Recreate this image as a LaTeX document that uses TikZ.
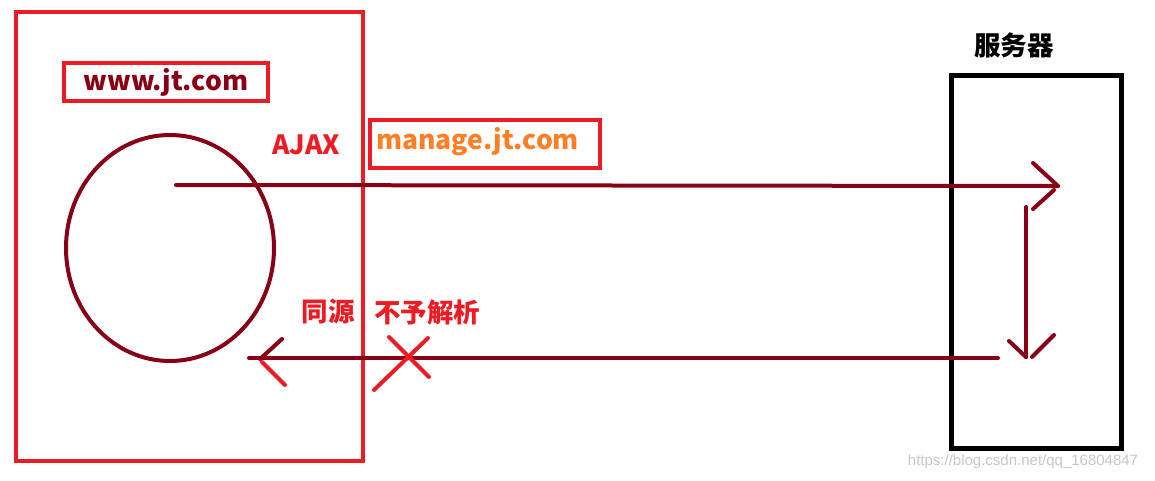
\documentclass[tikz,border=0pt]{standalone}
\usepackage{fontspec}
\setmainfont{Noto Sans CJK SC}
\setsansfont{Liberation Sans}
\usetikzlibrary{shapes.geometric}
\definecolor{maroon}{RGB}{136,0,21}
\definecolor{paintred}{RGB}{237,28,36}
\definecolor{paintorange}{RGB}{255,127,39}
\tikzset{
  boxnode/.style = {rectangle, inner sep=0pt, minimum width=#1},
  domain_box/.style = {boxnode=347pt, draw=paintred, line width=4pt,
    minimum height=449pt},% navigateur
  server_box/.style = {boxnode=170pt, draw=black, line width=5pt,
    minimum height=373pt},% serveur
  url_box/.style = {rectangle, inner sep=0pt, draw=paintred, line width=4pt},
  label_txt/.style = {inner sep=0pt, font=\fontsize{26.5}{30}\selectfont\bfseries},
  client_node/.style = {ellipse, draw=maroon, line width=4pt, inner sep=0pt,
    minimum width=208pt, minimum height=226pt},
  flow/.style = {maroon, line width=4pt, line cap=round},
  deny/.style = {paintred, line width=4pt, line cap=round},
}

\begin{document}
\begin{tikzpicture}[x=1pt,y=-1pt]
  \useasboundingbox (0,0) rectangle (1155,480);

  \node[domain_box] (browser) at (189.5,236.5) {};
  \node[server_box] (server) at (1036,261.5) {};
  \node[client_node] (client) at (170,248) {};

  \node[url_box, minimum width=204pt, minimum height=38pt, label_txt, text=maroon]
    (www) at (166,82) {www.jt.com};
  \node[url_box, minimum width=230pt, minimum height=48pt] (managebox) at (485,144) {};
  \node[label_txt, text=paintorange, anchor=west] (manage) at (376,142) {manage.jt.com};

  \node[label_txt, text=paintred] (ajax) at (306,145) {AJAX};
  \node[label_txt, text=paintred] (same) at (328,312) {同源};
  \node[label_txt, text=paintred] (refuse) at (427,312) {不予解析};
  \node[label_txt, text=black] (srvname) at (1014,45) {服务器};
  \node[inner sep=0pt, font=\sffamily\fontsize{15}{17}\selectfont, text=black!22]
    (mark) at (1023,462) {https://blog.csdn.net/qq\_16804847};

  \coordinate (reqstart) at (176,185);
  \coordinate (reqtip) at (1058,186);
  \coordinate (proctop) at (1026,207);
  \coordinate (procbot) at (1026,357);
  \coordinate (respstart) at (998,358);
  \coordinate (resptip) at (249,358);
  \coordinate (cross) at (408,357);

  % requete
  \path[flow] (reqstart) edge (reqtip);
  \draw[flow] (reqtip) -- ++(-25,-23);
  \draw[flow] (reqtip) ++(-4,4) -- ++(-21,19);
  % traitement
  \path[flow] (proctop) edge (procbot);
  \draw[flow] (procbot) -- ++(-17,-16);
  \draw[flow] (procbot) ++(6,0) -- ++(22,-22);
  % reponse
  \path[flow] (respstart) edge (resptip);
  \draw[flow] (resptip) ++(11,1) -- ++(22,-20);
  \draw[deny] (resptip) ++(13,4) -- ++(23,23);
  \draw[deny] (cross) ++(-19,-20) -- ++(40,40);
  \draw[deny] (cross) ++(20,-19) -- ++(-54,52);
\end{tikzpicture}
\end{document}
